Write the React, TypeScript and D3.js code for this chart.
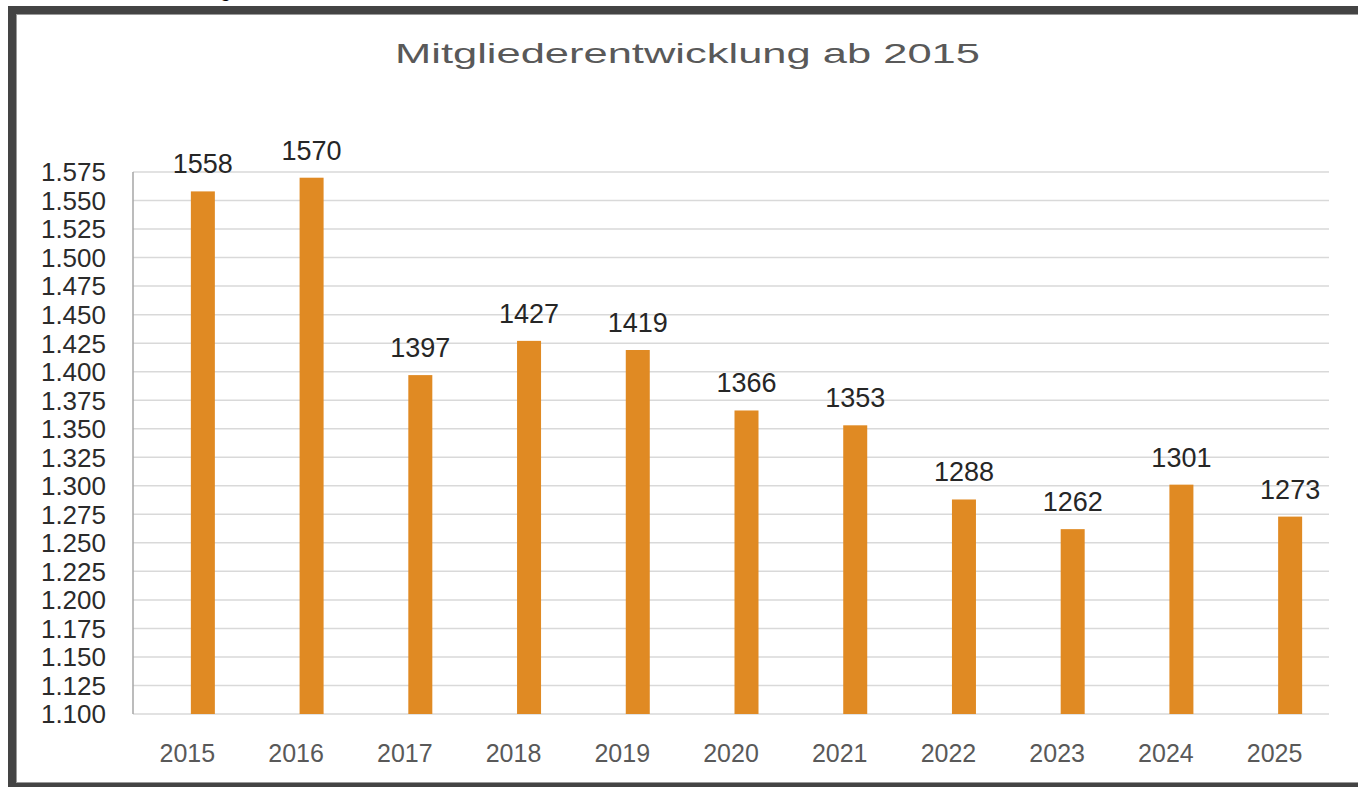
import React from "react";
import * as d3 from "d3";

const years = ["2015", "2016", "2017", "2018", "2019", "2020", "2021", "2022", "2023", "2024", "2025"];
const members = [1558, 1570, 1397, 1427, 1419, 1366, 1353, 1288, 1262, 1301, 1273];
const yTicks = [1100, 1125, 1150, 1175, 1200, 1225, 1250, 1275, 1300, 1325, 1350, 1375, 1400, 1425, 1450, 1475, 1500, 1525, 1550, 1575];
const title = "Mitgliederentwicklung ab 2015";

const W = 1358;
const H = 787;
const left = 133;
const right = 1329;
const top = 172;
const bottom = 714;

const de = d3.formatLocale({ decimal: ",", thousands: ".", grouping: [3], currency: ["", "€"] });
const fmt = de.format(",");

const FONT = "'Liberation Sans', Arial, sans-serif";

export default function App() {
  const x = d3.scaleBand<string>().domain(years).range([left, right]).padding(0);
  const y = d3.scaleLinear().domain([1100, 1575]).range([bottom, top]);
  const barW = 24;
  const barShift = 15.5;

  return (
    <svg
      width={W}
      height={H}
      viewBox={`0 0 ${W} ${H}`}
      style={{ position: "absolute", left: 0, top: 0, background: "#fff" }}
    >
      <rect x={0} y={0} width={W} height={H} fill="#fff" />
      {/* clipped caption at the very top */}
      <text x={231} y={-3} textAnchor="end" fontFamily={FONT} fontSize={20} fill="#000">
        Entwicklung
      </text>
      {/* frame */}
      <rect x={12} y={10} width={W + 20} height={777} fill="none" stroke="#444" strokeWidth={8} />
      <rect x={16.5} y={14.5} width={W + 20} height={768} fill="none" stroke="#9a9a9a" strokeWidth={1} />

      {/* title */}
      <text
        x={687.5}
        y={63}
        textAnchor="middle"
        fontFamily={FONT}
        fontSize={28}
        fill="#595959"
        textLength={585}
        lengthAdjust="spacingAndGlyphs"
      >
        {title}
      </text>

      {/* gridlines */}
      {yTicks.map((t) => (
        <line key={t} x1={left} x2={right} y1={y(t)} y2={y(t)} stroke="#d9d9d9" strokeWidth={1.5} />
      ))}
      <line x1={left} x2={left} y1={top} y2={bottom} stroke="#a6a6a6" strokeWidth={1.5} />

      {/* y labels */}
      {yTicks.map((t) => (
        <text
          key={"l" + t}
          x={106}
          y={y(t)}
          dy="0.36em"
          textAnchor="end"
          fontFamily={FONT}
          fontSize={26}
          fill="#2b2b2b"
        >
          {fmt(t)}
        </text>
      ))}

      {/* bars */}
      {years.map((yr, i) => {
        const cx = (x(yr) as number) + x.bandwidth() / 2 + barShift;
        return (
          <g key={yr}>
            <rect
              x={cx - barW / 2}
              y={y(members[i])}
              width={barW}
              height={bottom - y(members[i])}
              fill="#E08A23"
            />
            <text
              x={cx}
              y={y(members[i]) - 18}
              textAnchor="middle"
              fontFamily={FONT}
              fontSize={27}
              fill="#262626"
            >
              {members[i]}
            </text>
          </g>
        );
      })}

      {/* x labels */}
      {years.map((yr) => (
        <text
          key={"x" + yr}
          x={(x(yr) as number) + x.bandwidth() / 2}
          y={762}
          textAnchor="middle"
          fontFamily={FONT}
          fontSize={25}
          fill="#595959"
        >
          {yr}
        </text>
      ))}
    </svg>
  );
}
